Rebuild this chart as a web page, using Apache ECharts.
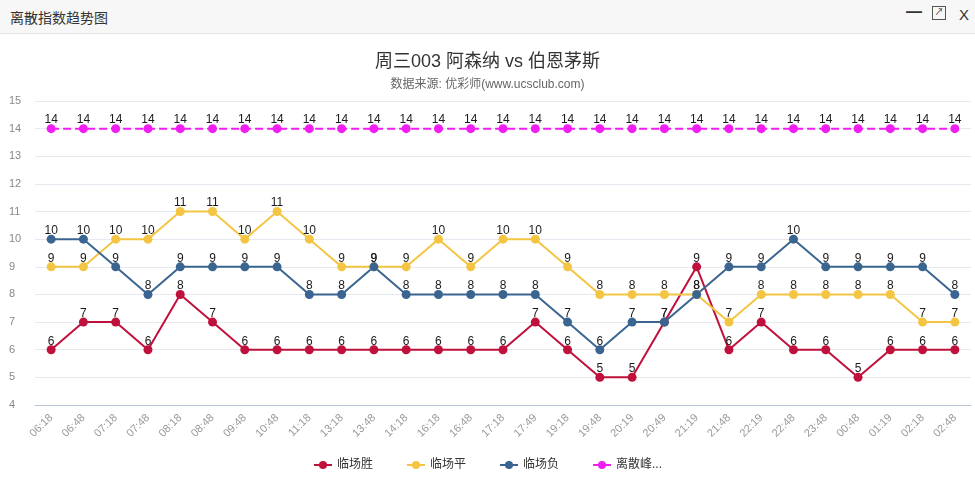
<!DOCTYPE html>
<html><head><meta charset="utf-8">
<script src="https://cdn.jsdelivr.net/npm/echarts@6/dist/echarts.min.js"></script>
<style>
html,body{margin:0;padding:0;background:#fff;}
#hdr{position:absolute;left:0;top:0;width:975px;height:33px;background:#f7f7f7;border-bottom:1px solid #e6e6e6;z-index:2;font-family:"Liberation Sans","Noto Sans CJK SC",sans-serif;}
#hdr .t{position:absolute;left:10px;top:7px;font-size:14px;color:#333;}
#hdr .ic{position:absolute;top:5px;font-size:16px;color:#333;}
#chart{position:absolute;left:0;top:0;width:975px;height:478px;}
</style></head>
<body>
<div id="chart"></div>
<div id="hdr"><span class="t">离散指数趋势图</span>
<span class="ic" style="left:906px;top:3px;font-weight:bold;">—</span>
<span class="ic" style="left:932px;top:6px;width:12px;height:12px;border:1px solid #555;display:inline-block;font-size:9px;line-height:10px;text-align:center;">↗</span>
<span class="ic" style="left:959px;top:6px;font-size:15px;">X</span>
</div>
<script>
const categories = ['06:18','06:48','07:18','07:48','08:18','08:48','09:48','10:48','11:18','13:18','13:48','14:18','16:18','16:48','17:18','17:49','19:18','19:48','20:19','20:49','21:19','21:48','22:19','22:48','23:48','00:48','01:19','02:18','02:48'];
const winValues  = [6,7,7,6,8,7,6,6,6,6,6,6,6,6,6,7,6,5,5,7,9,6,7,6,6,5,6,6,6];
const drawValues = [9,9,10,10,11,11,10,11,10,9,9,9,10,9,10,10,9,8,8,8,8,7,8,8,8,8,8,7,7];
const lossValues = [10,10,9,8,9,9,9,9,8,8,9,8,8,8,8,8,7,6,7,7,8,9,9,10,9,9,9,9,8];
const peakValues = [14,14,14,14,14,14,14,14,14,14,14,14,14,14,14,14,14,14,14,14,14,14,14,14,14,14,14,14,14];
const seriesNames = ['临场胜','临场平','临场负','离散峰值'];
const colors = ['#c0103c','#f4c542','#3a6590','#f01ef0'];

const FONT = '"Liberation Sans","Noto Sans CJK SC",sans-serif';
const chart = echarts.init(document.getElementById('chart'));
function mk(name, data, color, dashed){
  return {
    name, type:'line', data, symbol:'circle', symbolSize:9,
    itemStyle:{color}, lineStyle:{color, width:2, type: dashed?'dashed':'solid'},
    label:{show:true, position:'top', distance:2, offset:[0,4], color:'#1a1a1a', fontSize:12, fontFamily:FONT},
    emphasis:{disabled:true}, animation:false
  };
}
chart.setOption({
  animation:false,
  textStyle:{fontFamily:FONT},
  title:{
    text:'周三003 阿森纳 vs 伯恩茅斯', subtext:'数据来源: 优彩师(www.ucsclub.com)',
    left:'center', top:48, itemGap:8,
    textStyle:{fontSize:18, fontWeight:'normal', color:'#333', fontFamily:FONT},
    subtextStyle:{fontSize:12, color:'#666', fontFamily:FONT}
  },
  legend:{
    bottom:2, left:'center', itemWidth:18, itemHeight:10, itemGap:33,
    textStyle:{fontSize:12, color:'#333', fontFamily:FONT},
    formatter: n => n === '离散峰值' ? '离散峰...' : n,
    data:seriesNames
  },
  grid:{left:35, right:4, top:101, bottom:73},
  xAxis:{
    type:'category', data:categories, boundaryGap:true,
    axisLine:{lineStyle:{color:'#b8c5d6'}},
    axisTick:{lineStyle:{color:'#b8c5d6'}},
    axisLabel:{rotate:45, color:'#999', fontSize:11, interval:0, margin:11}
  },
  yAxis:{
    type:'value', min:4, max:15, interval:1,
    axisLine:{show:false}, axisTick:{show:false},
    axisLabel:{color:'#888', fontSize:11, margin:26, align:'left'},
    splitLine:{lineStyle:{color:'#e6e9ef'}}
  },
  series:[
    mk(seriesNames[0], winValues, colors[0]),
    mk(seriesNames[1], drawValues, colors[1]),
    mk(seriesNames[2], lossValues, colors[2]),
    mk(seriesNames[3], peakValues, colors[3], true)
  ]
});
</script>
</body></html>
